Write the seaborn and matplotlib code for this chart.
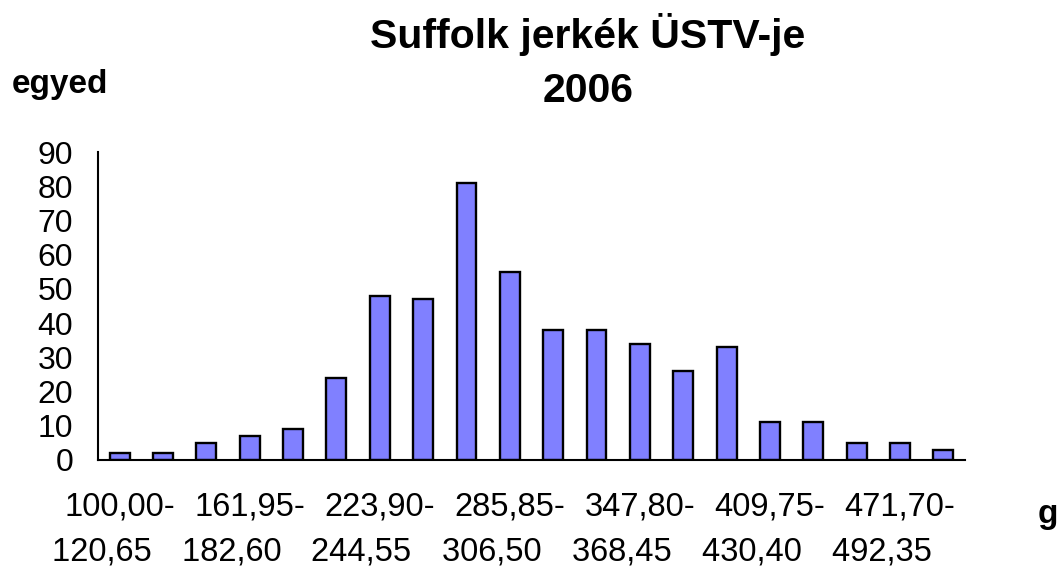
import numpy as np
import pandas as pd
import matplotlib
matplotlib.use('Agg')
import matplotlib.pyplot as plt
import seaborn as sns

# bin edges (g) and counts per bin
edges = ["100,00", "120,65", "141,30", "161,95", "182,60", "203,25", "223,90",
         "244,55", "265,20", "285,85", "306,50", "327,15", "347,80", "368,45",
         "389,10", "409,75", "430,40", "451,05", "471,70", "492,35", "513,00"]
counts = [2, 2, 5, 7, 9, 24, 48, 47, 81, 55, 38, 38, 34, 26, 33, 11, 11, 5, 5, 3]
label_every = 3

bins = [f"{a}-{b}" for a, b in zip(edges[:-1], edges[1:])]
df = pd.DataFrame({"bin": bins, "egyed": counts})

sns.set_theme(style="white", rc={"text.color": "black", "xtick.color": "black",
                                 "ytick.color": "black", "axes.edgecolor": "black"})
plt.rcParams['font.family'] = ['Liberation Sans', 'DejaVu Sans']

fig = plt.figure(figsize=(10.63, 5.71), dpi=100)
ax = fig.add_axes([0.0922, 0.1944, 0.8156, 0.5394])

sns.barplot(data=df, x="bin", y="egyed", color="#8080FF", saturation=1,
            width=0.46, edgecolor="black", linewidth=1.7, ax=ax)

ax.set_ylim(0, 90)
ax.set_xlim(-0.5, len(bins) - 0.5)
ax.set_yticks(range(0, 91, 10))
ax.tick_params(axis='y', labelsize=23, length=7, width=1.5, pad=11)

# tick marks on bin boundaries, labels every third bin
ax.set_xticks(np.arange(-0.5, len(bins), 1.0))
ax.set_xticklabels([])
ax.tick_params(axis='x', which='major', length=7, width=1.5, direction='out')
pos = list(range(0, len(bins), label_every))
ax.set_xticks(pos, minor=True)
ax.set_xticklabels([bins[i].replace("-", "-\n") + "    " for i in pos], minor=True)
ax.tick_params(axis='x', which='minor', length=0, pad=23, labelsize=23.5)
for t in ax.get_xticklabels(minor=True):
    t.set_linespacing(1.55)

ax.set_xlabel("")
ax.set_ylabel("")
for side in ["top", "right"]:
    ax.spines[side].set_visible(False)
for side in ["left", "bottom"]:
    ax.spines[side].set_linewidth(1.5)

fig.text(0.553, 0.916, "Suffolk jerkék ÜSTV-je", ha='center', va='baseline',
         fontsize=29.5, fontweight='bold')
fig.text(0.553, 0.821, "2006", ha='center', va='baseline',
         fontsize=29.5, fontweight='bold')
fig.text(0.0564, 0.837, "egyed", ha='center', va='baseline', fontsize=24, fontweight='bold')
fig.text(0.986, 0.084, "g", ha='center', va='baseline', fontsize=24, fontweight='bold')

fig.savefig("out.png", dpi=100)
